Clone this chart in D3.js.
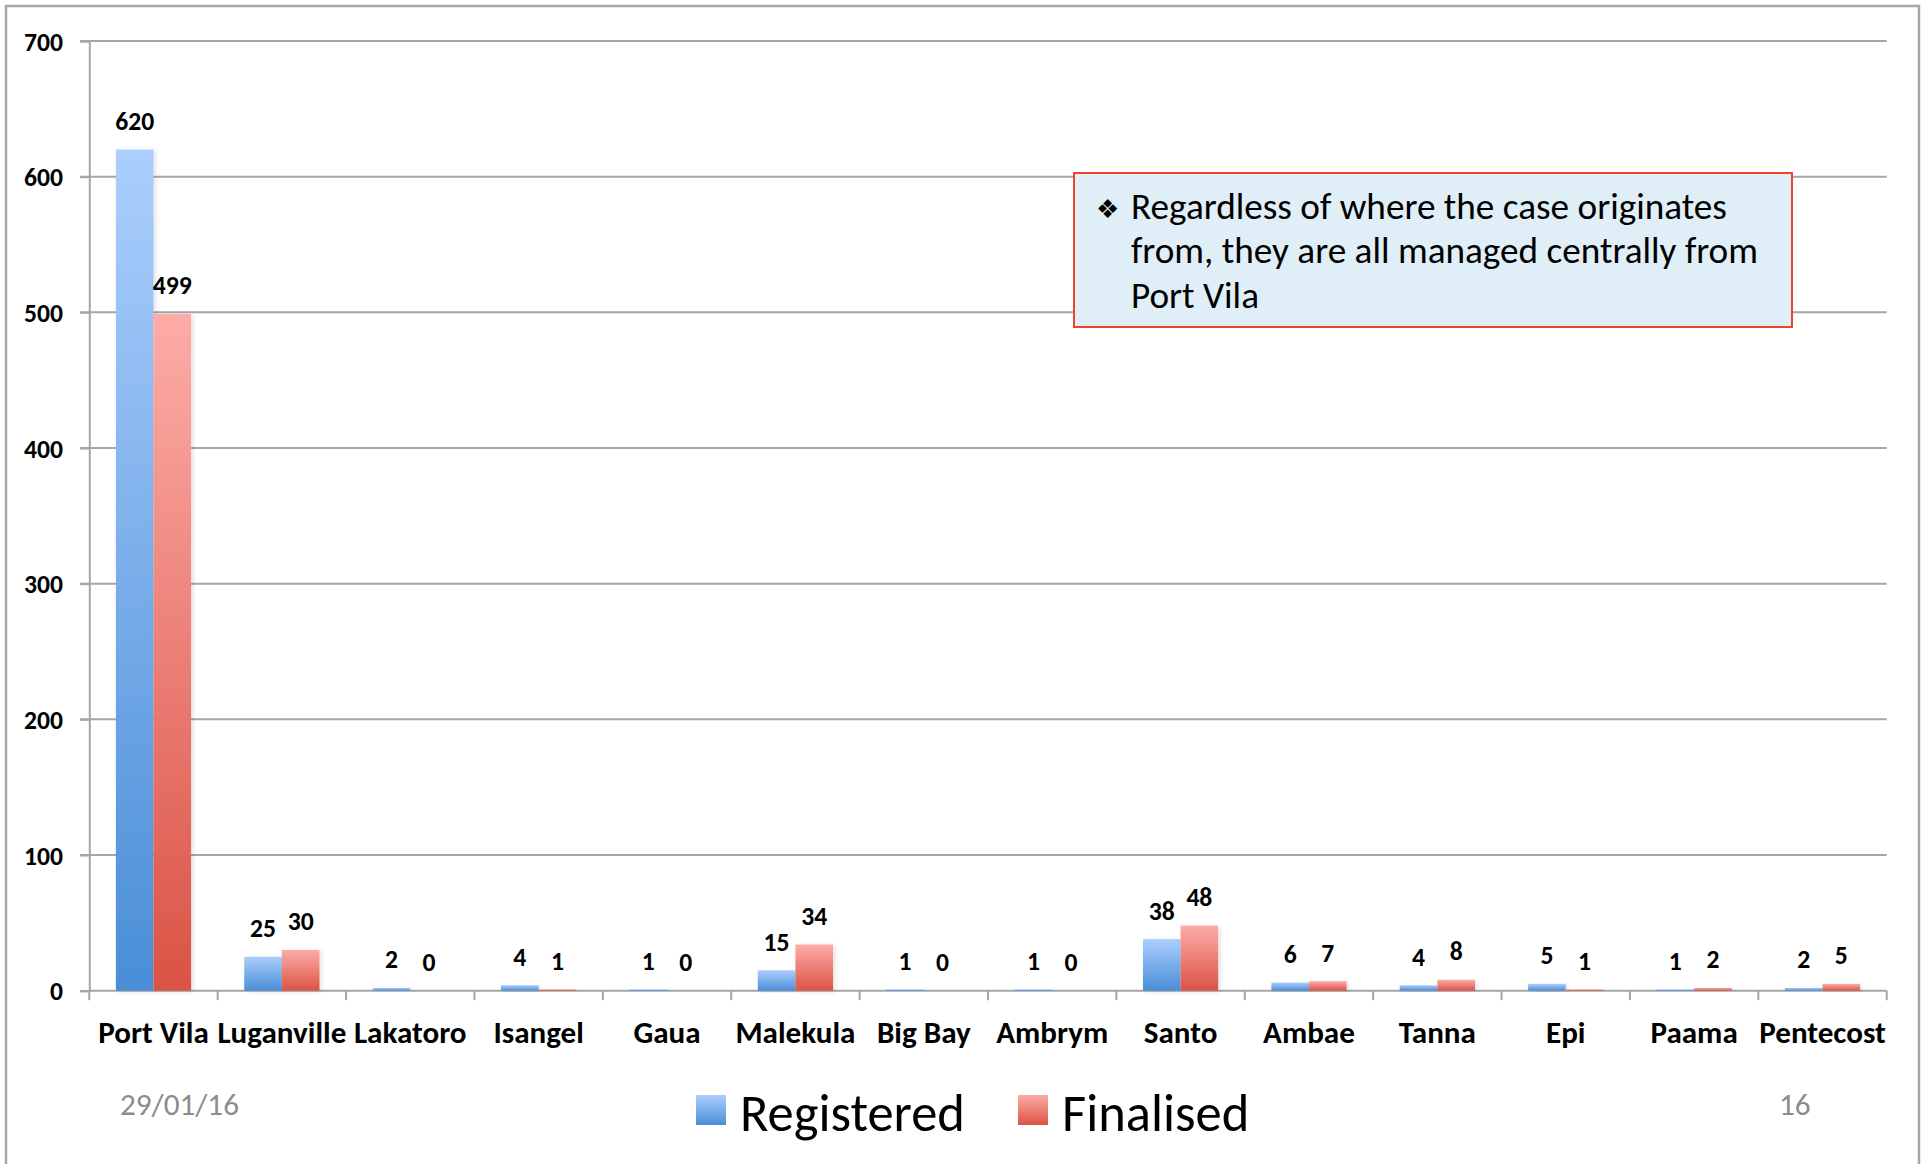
<!DOCTYPE html>
<html>
<head>
<meta charset="utf-8">
<script src="https://d3js.org/d3.v7.min.js"></script>
<style>
  html, body { margin: 0; padding: 0; background: #ffffff; }
  svg { display: block; }
</style>
</head>
<body>
<svg id="chart" width="1927" height="1164"></svg>
<script>
// ---- Data ----
const categories = ["Port Vila", "Luganville", "Lakatoro", "Isangel", "Gaua", "Malekula", "Big Bay", "Ambrym", "Santo", "Ambae", "Tanna", "Epi", "Paama", "Pentecost"];
const seriesNames = ["Registered", "Finalised"];
const registered = [620, 25, 2, 4, 1, 15, 1, 1, 38, 6, 4, 5, 1, 2];
const finalised = [499, 30, 0, 1, 0, 34, 0, 0, 48, 7, 8, 1, 2, 5];
const yTicks = [0, 100, 200, 300, 400, 500, 600, 700];
const noteLines = ["Regardless of where the case originates", "from, they are all managed centrally from", "Port Vila"];
const dateText = "29/01/16";
const pageText = "16";

const FONT = "Carlito, Lato, 'Open Sans', sans-serif";
const GRID = "#a6a6a6";

const svg = d3.select("#chart");

// gradients
const defs = svg.append("defs");
const grads = {
  Registered: ["#abcefd", "#4a8ed7"],
  Finalised: ["#fdaca7", "#da5346"]
};
Object.entries(grads).forEach(([k, c]) => {
  const g = defs.append("linearGradient").attr("id", "g-" + k)
    .attr("x1", 0).attr("y1", 0).attr("x2", 0).attr("y2", 1);
  g.append("stop").attr("offset", "0%").attr("stop-color", c[0]);
  g.append("stop").attr("offset", "100%").attr("stop-color", c[1]);
});
const shadow = defs.append("filter").attr("id", "shadow")
  .attr("x", "-20%").attr("y", "-5%").attr("width", "150%").attr("height", "115%");
shadow.append("feDropShadow").attr("dx", 2).attr("dy", 1).attr("stdDeviation", 2)
  .attr("flood-color", "#000").attr("flood-opacity", 0.12);

// outer frame
svg.append("rect").attr("x", 6).attr("y", 6).attr("width", 1913).attr("height", 1220)
  .attr("fill", "none").attr("stroke", GRID).attr("stroke-width", 2.5);

// scales
const x = d3.scaleBand().domain(categories).range([89.3, 1886.7]).paddingInner(0).paddingOuter(0);
const pad = x.bandwidth() * 0.207;
const xs = d3.scaleBand().domain(seriesNames).range([pad, x.bandwidth() - pad]);
const y = d3.scaleLinear().domain([0, 700]).range([990.7, 41]);

// helper to fit font size to a target width
function fitSize(text, weight, target, base) {
  const t = svg.append("text").attr("font-family", FONT).attr("font-weight", weight)
    .attr("font-size", base).text(text);
  const w = t.node().getComputedTextLength();
  t.remove();
  return base * target / w;
}

// gridlines
const gridG = svg.append("g");
gridG.selectAll("line").data(yTicks.filter(d => d > 0)).join("line")
  .attr("x1", 80).attr("x2", 1886.7)
  .attr("y1", d => y(d)).attr("y2", d => y(d))
  .attr("stroke", GRID).attr("stroke-width", 2);

// y axis
const yAxis = svg.append("g").attr("transform", "translate(89.3,0)")
  .call(d3.axisLeft(y).tickValues(yTicks).tickSize(9.3).tickPadding(17).tickFormat(d3.format("d")));
yAxis.select(".domain").attr("stroke", GRID).attr("stroke-width", 2);
yAxis.selectAll(".tick line").attr("stroke", GRID).attr("stroke-width", 2);
const yFs = fitSize("700", "bold", 39, 24);
yAxis.selectAll(".tick text").attr("font-family", FONT).attr("font-weight", "bold")
  .attr("font-size", yFs).attr("fill", "#000").attr("dy", "0.36em");

// x axis
const xAxis = svg.append("g").attr("transform", "translate(0,990.7)")
  .call(d3.axisBottom(x).tickSize(0).tickPadding(0));
xAxis.select(".domain").attr("stroke", GRID).attr("stroke-width", 2)
  .attr("d", "M89.3,0H1886.7");
const boundaries = categories.map(c => x(c)).concat([x.range()[1]]);
xAxis.selectAll(".bound").data(boundaries).join("line").attr("class", "bound")
  .attr("x1", d => d).attr("x2", d => d).attr("y1", 0).attr("y2", 9.5)
  .attr("stroke", GRID).attr("stroke-width", 2);
const xFs = fitSize("Malekula", "bold", 120, 26);
xAxis.selectAll(".tick text").attr("font-family", FONT).attr("font-weight", "bold")
  .attr("font-size", xFs).attr("fill", "#000").attr("dy", 0).attr("y", 52.3);

// bars
const rows = categories.map((c, i) => ({ cat: c, values: [
  { s: "Registered", v: registered[i] }, { s: "Finalised", v: finalised[i] }
]}));
const groups = svg.append("g").selectAll("g").data(rows).join("g")
  .attr("transform", d => `translate(${x(d.cat)},0)`);
groups.selectAll("rect").data(d => d.values.filter(e => e.v > 0)).join("rect")
  .attr("x", d => xs(d.s)).attr("width", xs.bandwidth())
  .attr("y", d => y(d.v)).attr("height", d => y(0) - y(d.v))
  .attr("fill", d => `url(#g-${d.s})`)
  .attr("filter", "url(#shadow)");
const dFs = fitSize("34", "bold", 26, 24);
groups.selectAll("text").data(d => d.values).join("text")
  .attr("x", d => xs(d.s) + xs.bandwidth() / 2)
  .attr("y", d => y(d.v) - 19.5)
  .attr("text-anchor", "middle")
  .attr("font-family", FONT).attr("font-weight", "bold").attr("font-size", dFs)
  .attr("fill", "#000").text(d => d.v);

// annotation box
svg.append("rect").attr("x", 1074).attr("y", 173).attr("width", 718).attr("height", 154)
  .attr("fill", "#e0eef7").attr("stroke", "#f1412d").attr("stroke-width", 2);
const nFs = fitSize(noteLines[1], "normal", 627, 32);
svg.append("text").attr("x", 1096).attr("y", 218)
  .attr("font-family", "'DejaVu Sans', sans-serif").attr("font-size", 26).attr("fill", "#000")
  .text("\u2756");
svg.append("g").selectAll("text").data(noteLines).join("text")
  .attr("x", 1131).attr("y", (d, i) => [219, 263, 307.5][i])
  .attr("font-family", FONT).attr("font-size", nFs).attr("fill", "#000")
  .text(d => d);

// legend
const lgFs = fitSize("Registered", "normal", 225, 50);
const legend = svg.append("g");
const legendX = [696, 1018];
seriesNames.forEach((s, i) => {
  legend.append("rect").attr("x", legendX[i]).attr("y", 1095).attr("width", 30).attr("height", 30)
    .attr("fill", `url(#g-${s})`);
  legend.append("text").attr("x", legendX[i] + 44).attr("y", 1130.7)
    .attr("font-family", FONT).attr("font-size", lgFs).attr("fill", "#000").text(s);
});

// footer texts
const fFs = fitSize(dateText, "normal", 119, 30);
svg.append("text").attr("x", 120).attr("y", 1115).attr("font-family", FONT)
  .attr("font-size", fFs).attr("fill", "#8c8c8c").text(dateText);
svg.append("text").attr("x", 1779).attr("y", 1115).attr("font-family", FONT)
  .attr("font-size", fFs).attr("fill", "#8c8c8c").text(pageText);
</script>
</body>
</html>
